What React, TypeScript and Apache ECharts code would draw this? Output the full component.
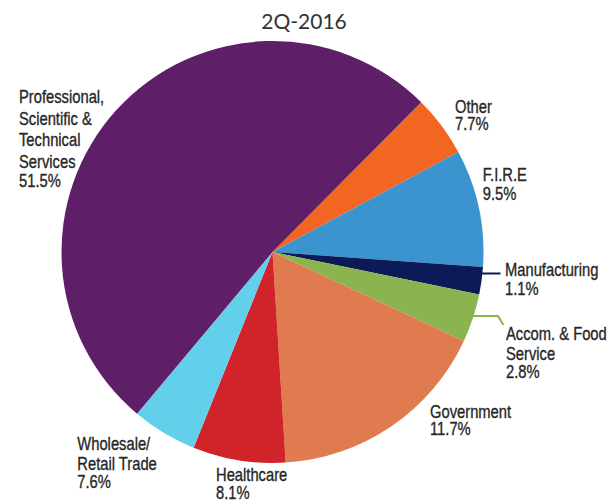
import React, { useEffect, useRef } from "react";
import * as echarts from "echarts";

// Categories in clockwise order, starting at the Other slice
const categories = [
  "Other",
  "F.I.R.E",
  "Manufacturing",
  "Accom. & Food\nService",
  "Government",
  "Healthcare",
  "Wholesale/\nRetail Trade",
  "Professional,\nScientific &\nTechnical\nServices",
];
// Slice shares as drawn in the picture (percent of the circle)
const sliceShares = [4.7, 9.0, 2.1, 3.7, 17.1, 7.1, 5.0, 51.4];
// Shares as printed in the labels
const labelShares = ["7.7%", "9.5%", "1.1%", "2.8%", "11.7%", "8.1%", "7.6%", "51.5%"];
const colors = ["#F26522", "#3B94CE", "#0C1A57", "#8BB450", "#E07A4F", "#D1232A", "#62CFEB", "#5F1F68"];
const title = "2Q-2016";

// label placement (layout only): left x and cap-top of each text line
const labelLayout: { x: number; tops: number[] }[] = [
  { x: 455, tops: [100, 116.7] },
  { x: 482.7, tops: [168.3, 186.7] },
  { x: 505, tops: [263.3, 281.7] },
  { x: 506, tops: [326.7, 346.7, 365] },
  { x: 430, tops: [405, 421.7] },
  { x: 216, tops: [468, 486] },
  { x: 77.3, tops: [436.7, 456.7, 475] },
  { x: 19, tops: [90, 111.7, 133.3, 155, 174] },
];
// leader lines for the two thin slices (layout only)
const leaderLines: Record<number, number[][]> = {
  2: [[479, 273.5], [490, 273.5], [500.5, 273.5]],
  3: [[471, 316], [498, 316], [503.5, 325]],
};

const FONT_SIZE = 18;
const CAP_HALF = 6.45;
const TEXT_COLOR = "#272727";

export default function App() {
  const ref = useRef<HTMLDivElement>(null);
  useEffect(() => {
    if (!ref.current) return;
    const chart = echarts.init(ref.current, null, { renderer: "svg" });
    const data = categories.map((name, i) => ({
      name: name.replace(/\n/g, " "),
      value: sliceShares[i],
      itemStyle: { color: colors[i] },
    }));

    const graphics: any[] = [];
    categories.forEach((name, i) => {
      const lines = [...name.split("\n"), labelShares[i]];
      const lay = labelLayout[i];
      lines.forEach((line, j) => {
        graphics.push({
          type: "text",
          x: lay.x,
          y: lay.tops[j] + CAP_HALF,
          scaleX: 0.82,
          silent: true,
          style: {
            text: line,
            fill: TEXT_COLOR,
            stroke: TEXT_COLOR,
            lineWidth: 0.35,
            font: `${FONT_SIZE}px "Liberation Sans", Arial, sans-serif`,
            align: "left",
            verticalAlign: "middle",
          },
        });
      });
      if (leaderLines[i]) {
        graphics.push({
          type: "polyline",
          silent: true,
          shape: { points: leaderLines[i] },
          style: { stroke: colors[i], lineWidth: 2, fill: "none" },
        });
      }
    });

    chart.setOption({
      animation: false,
      title: {
        text: title,
        left: "center",
        top: 5,
        textStyle: { fontFamily: "Lato", fontSize: 21, fontWeight: "normal", color: "#333" },
      },
      graphic: graphics,
      series: [
        {
          type: "pie",
          center: [272.5, 252],
          radius: 211,
          startAngle: 45.2,
          clockwise: true,
          avoidLabelOverlap: false,
          label: { show: false },
          labelLine: { show: false },
          data,
        },
      ],
    });
    return () => chart.dispose();
  }, []);
  return (
    <div
      ref={ref}
      style={{ position: "fixed", left: 0, top: 0, width: 608, height: 500, background: "#fff" }}
    />
  );
}
